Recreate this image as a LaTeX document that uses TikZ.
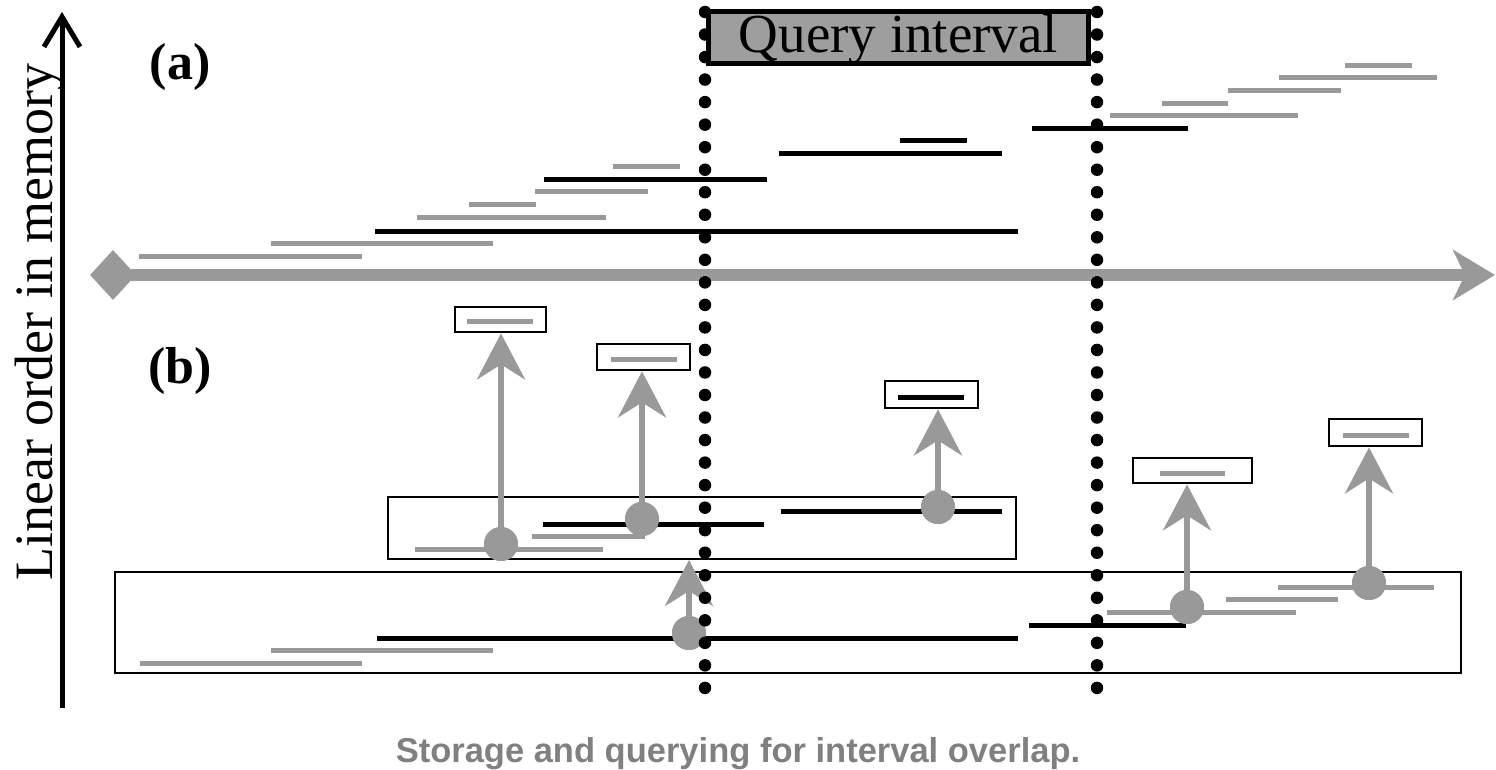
\documentclass[tikz,border=0pt]{standalone}
\usepackage{fontspec}
\setmainfont{Liberation Serif}
\newfontfamily\capfont{Liberation Sans}
\usetikzlibrary{arrows.meta,shapes.geometric}
\definecolor{ig}{RGB}{153,153,153}
\definecolor{qfill}{RGB}{158,158,158}
\definecolor{capg}{RGB}{128,128,128}
\begin{document}
\begin{tikzpicture}[x=1pt,y=-1pt,
  gi/.style={ig,line width=5pt},
  bi/.style={black,line width=5pt},
  dotline/.style={line width=12.5pt,line cap=round,dash pattern=on 0pt off 22.53pt},
  sbox/.style={draw,line width=2.8pt,inner sep=0pt},
  bbox/.style={draw,line width=2pt,inner sep=0pt},
  dotc/.style={circle,fill=ig,minimum size=34pt,inner sep=0pt},
  garrow/.style={ig,line width=6pt,-{Stealth[length=46pt,width=48pt,inset=15pt]}},
  gaxis/.style={ig,line width=12pt,-{Stealth[length=42pt,width=50pt,inset=12pt]}},
  yaxis/.style={black,line width=5pt,-{Straight Barb[length=30pt,width=36pt]}}
]
\useasboundingbox (0,0) rectangle (1496,770);

% vertical axis and label
\coordinate (yb) at (62,708);
\coordinate (yt) at (62,12);
\draw[yaxis] (yb) -- (yt);
\node[rotate=90,anchor=base,inner sep=0pt,font=\fontsize{54}{60}\selectfont] (ylab) at (52,322) {Linear order in memory};

% panel labels
\node[anchor=base,inner sep=0pt,font=\bfseries\fontsize{52}{58}\selectfont] (la) at (180,80) {(a)};
\node[anchor=base,inner sep=0pt,font=\bfseries\fontsize{52}{58}\selectfont] (lb) at (180,383) {(b)};

% (a) intervals
\draw[gi] (139,256) -- (362,256);
\draw[gi] (271,243) -- (493,243);
\draw[bi] (375,231) -- (1018,231);
\draw[gi] (417,218) -- (606,218);
\draw[gi] (469,205) -- (536,205);
\draw[gi] (535,192) -- (648,192);
\draw[bi] (544,180) -- (767,180);
\draw[gi] (613,167) -- (680,167);
\draw[bi] (779,154) -- (1002,154);
\draw[bi] (900,141) -- (967,141);
\draw[bi] (1032,129) -- (1188,129);
\draw[gi] (1110,116) -- (1298,116);
\draw[gi] (1162,104) -- (1228,104);
\draw[gi] (1228,91) -- (1341,91);
\draw[gi] (1279,78) -- (1437,78);
\draw[gi] (1345,66) -- (1412,66);

% horizontal axis
\node[diamond,fill=ig,inner sep=0pt,minimum width=46pt,minimum height=50pt] (dm) at (113,275) {};
\coordinate (xend) at (1495,275);
\draw[gaxis] (dm.center) -- (xend);

% (b) big boxes
\node[bbox,minimum width=628pt,minimum height=62pt] (ub) at (702,528) {};
\node[bbox,minimum width=1346pt,minimum height=101pt] (lbx) at (788,622.5) {};

% (b) intervals, lower box
\draw[gi] (140,663) -- (362,663);
\draw[gi] (271,650) -- (493,650);
\draw[bi] (377,638) -- (1018,638);
\draw[bi] (1029,625) -- (1186,625);
\draw[gi] (1107,612) -- (1296,612);
\draw[gi] (1226,599) -- (1338,599);
\draw[gi] (1278,587) -- (1434,587);
% (b) intervals, upper box
\draw[gi] (415,549) -- (603,549);
\draw[gi] (532,536) -- (645,536);
\draw[bi] (543,524) -- (764,524);
\draw[bi] (781,511) -- (1002,511);

% small result boxes
\node[sbox,minimum width=91pt,minimum height=25pt] (b1) at (500.5,319.5) {};
\node[sbox,minimum width=93pt,minimum height=26pt] (b2) at (643.5,357) {};
\node[sbox,minimum width=93pt,minimum height=27pt] (b3) at (931.5,394.5) {};
\node[sbox,minimum width=119pt,minimum height=25pt] (b4) at (1192.5,470.5) {};
\node[sbox,minimum width=93pt,minimum height=27pt] (b5) at (1375.5,432.5) {};
\draw[gi] (467,321) -- (533,321);
\draw[gi] (611,359) -- (677,359);
\draw[bi] (898,397) -- (964,397);
\draw[gi] (1160,473) -- (1225,473);
\draw[gi] (1343,435) -- (1409,435);

% arrows with circles
\node[dotc] (c1) at (501,544) {};
\node[dotc] (c2) at (642,519) {};
\node[dotc] (c3) at (938,507) {};
\node[dotc] (c4) at (1187,607) {};
\node[dotc] (c5) at (1369,583) {};
\node[dotc] (c6) at (689,633) {};
\draw[garrow] (c1.center) -- (c1 |- b1.south);
\draw[garrow] (c2.center) -- (c2 |- b2.south);
\draw[garrow] (c3.center) -- (c3 |- b3.south);
\draw[garrow] (c4.center) -- (c4 |- b4.south);
\draw[garrow] (c5.center) -- (c5 |- b5.south);
\draw[garrow] (c6.center) -- (c6 |- ub.south);
\node[dotc] at (c1) {};
\node[dotc] at (c2) {};
\node[dotc] at (c3) {};
\node[dotc] at (c4) {};
\node[dotc] at (c5) {};
\node[dotc] at (c6) {};

% dotted query bounds
\coordinate (q1t) at (705,12);
\coordinate (q1b) at (705,690);
\coordinate (q2t) at (1097,12);
\coordinate (q2b) at (1097,690);
\draw[dotline] (q1t) -- (q1b);
\draw[dotline] (q2t) -- (q2b);

% query interval box
\node[draw,line width=5pt,fill=qfill,inner sep=0pt,minimum width=380pt,minimum height=52pt,
      text height=40pt,text depth=9pt,font=\fontsize{55}{60}\selectfont] (qi) at (898.5,37.5) {Query interval};

% caption
\node[anchor=base,inner sep=0pt,text=capg,font=\capfont\bfseries\fontsize{34.5}{40}\selectfont] (cap) at (738,762) {Storage and querying for interval overlap.};
\end{tikzpicture}
\end{document}
